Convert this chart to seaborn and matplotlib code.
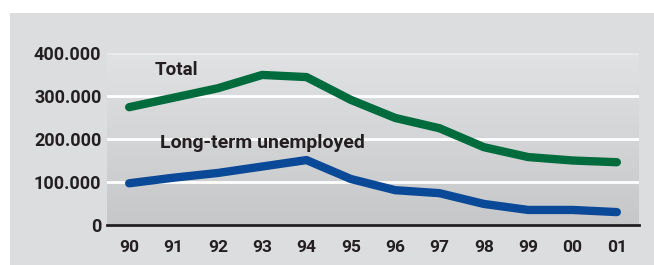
import matplotlib
matplotlib.use("Agg")
import matplotlib.pyplot as plt
import numpy as np
import pandas as pd
import seaborn as sns
from matplotlib.patches import Rectangle
from matplotlib.colors import LinearSegmentedColormap

years = ["90", "91", "92", "93", "94", "95", "96", "97", "98", "99", "00", "01"]
total = [274000, 296000, 318000, 349000, 344000, 291000, 249000, 225000, 181000, 158000, 150000, 146000]
long_term = [97000, 110000, 121000, 136000, 151000, 107000, 81000, 74000, 49000, 35000, 35000, 30000]
y_ticks = [0, 100000, 200000, 300000, 400000]
y_labels = ["0", "100.000", "200.000", "300.000", "400.000"]

df = pd.DataFrame({
    "year": list(range(len(years))) * 2,
    "value": total + long_term,
    "series": ["Total"] * len(years) + ["Long-term unemployed"] * len(years),
})

sns.set_theme(style="white")
plt.rcParams["font.family"] = ["Roboto", "DejaVu Sans"]

fig = plt.figure(figsize=(6.54, 2.65), dpi=100)
fig.patch.set_facecolor("white")
fig.patches.append(Rectangle((10 / 654, 0), 1, 1 - 13 / 265, transform=fig.transFigure,
                             facecolor="#dcdddf", edgecolor="none", zorder=-10))

ax = fig.add_axes([107 / 654, 1 - 225 / 265, (639 - 107) / 654, (225 - 53) / 265])
ax.set_facecolor("none")
ax.set_xlim(-0.5, 11.5)
ax.set_ylim(0, 400000)

grad = np.linspace(0, 1, 256).reshape(-1, 1)
cmap = LinearSegmentedColormap.from_list("g", ["#c6c7c9", "#e1e2e4"])
ax.imshow(grad, extent=(-0.5, 11.5, 0, 400000), origin="lower", aspect="auto",
          cmap=cmap, zorder=0)

for yv, c in zip([100000, 200000, 300000, 400000], ["white", "white", "white", "#e8e9ea"]):
    ax.axhline(yv, color=c, lw=2, zorder=1)

sns.lineplot(data=df, x="year", y="value", hue="series",
             palette={"Total": "#006b3c", "Long-term unemployed": "#0a4898"},
             linewidth=6, legend=False, ax=ax, zorder=3)
for ln in ax.get_lines():
    ln.set_solid_capstyle("round")
    ln.set_solid_joinstyle("round")

ax.text(0.58, 360000, "Total", fontsize=13.5, fontweight="bold", color="#231f20", ha="left", va="center")
ax.text(0.70, 191000, "Long-term unemployed", fontsize=14, fontweight="bold", color="#231f20", ha="left", va="center")

for s in ["top", "right", "left"]:
    ax.spines[s].set_visible(False)
ax.spines["bottom"].set_color("#231f20")
ax.spines["bottom"].set_linewidth(2)
ax.spines["bottom"].set_zorder(4)

ax.set_xticks(range(len(years)))
ax.set_xticklabels(years)
ax.set_xticks(np.arange(-0.5, 12, 1), minor=True)
ax.tick_params(axis="x", which="major", length=0, pad=11, labelsize=12.5, labelcolor="#231f20")
ax.tick_params(axis="x", which="minor", length=5, width=2, color="#231f20", direction="out")
ax.set_yticks(y_ticks)
ax.set_yticklabels(y_labels)
ax.tick_params(axis="y", length=0, pad=4, labelsize=13, labelcolor="#231f20")
for lab in ax.get_xticklabels() + ax.get_yticklabels():
    lab.set_fontweight("semibold")
ax.set_xlabel("")
ax.set_ylabel("")

fig.savefig("out.png", dpi=100, facecolor=fig.get_facecolor())
